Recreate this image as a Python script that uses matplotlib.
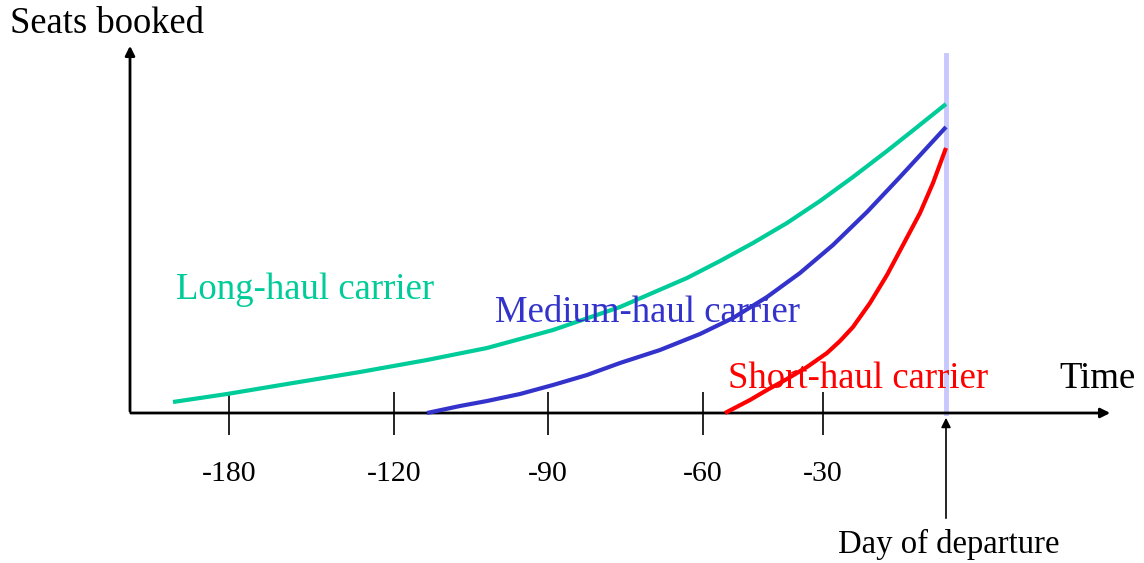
import matplotlib.pyplot as plt

plt.rcParams['font.family'] = ['Liberation Serif', 'DejaVu Serif']

# schematic booking curves (x: position on time axis, y: seats booked above baseline)
long_x = [173, 227, 293, 360, 427, 487, 553, 620, 687, 720, 753, 787, 820, 853, 887, 916, 946]
long_y = [11, 19, 30, 41, 53, 65, 83, 106, 135, 152, 170, 190, 212, 236, 262, 285, 309]
med_x = [427, 460, 487, 520, 553, 587, 620, 660, 700, 733, 767, 800, 833, 867, 900, 923, 946]
med_y = [0, 7, 12, 19, 28, 38, 50, 63, 79, 95, 116, 140, 168, 201, 236, 261, 286]
short_x = [725, 750, 767, 787, 807, 827, 840, 853, 870, 887, 903, 920, 933, 946]
short_y = [0, 13, 23, 34, 46, 60, 72, 86, 110, 138, 168, 200, 230, 265]

tick_pos = [229, 394, 548, 703, 823]
tick_labels = ['-180', '-120', '-90', '-60', '-30']
departure = 946

green = '#00CC99'
blue = '#3333CC'
red = '#FF0000'

fig = plt.figure(figsize=(11.44, 5.63), dpi=100)
ax = fig.add_axes([0, 0, 1, 1])
ax.set_xlim(0, 1144)
ax.set_ylim(-150, 413)
ax.set_axis_off()

# departure day highlight
ax.plot([departure, departure], [0, 358], color='#C8C8FF', lw=3.5, zorder=1)

# axes with arrows
ax.annotate('', xy=(130, 370), xytext=(130, -1),
            arrowprops=dict(arrowstyle='-|>', color='black', lw=2, mutation_scale=14))
ax.annotate('', xy=(1113, 0), xytext=(128, 0),
            arrowprops=dict(arrowstyle='-|>', color='black', lw=2, mutation_scale=14))

# ticks
ax.vlines(tick_pos, -22, 21, color='black', lw=1.2)
for p, lab in zip(tick_pos, tick_labels):
    ax.text(p, -61, lab, ha='center', va='center', fontsize=21.5)

# curves
ax.plot(long_x, long_y, color=green, lw=3, solid_capstyle='butt', zorder=3)
ax.plot(med_x, med_y, color=blue, lw=3, solid_capstyle='butt', zorder=3)
ax.plot(short_x, short_y, color=red, lw=3, solid_capstyle='butt', zorder=3)

# labels
ax.text(10, 389, 'Seats booked', fontsize=26.4, va='center', ha='left')
ax.text(1136, 34, 'Time', fontsize=26.5, va='center', ha='right')
ax.text(176, 123, 'Long-haul carrier', fontsize=26.5, color=green, va='center')
ax.text(495, 100, 'Medium-haul carrier', fontsize=26.5, color=blue, va='center')
ax.text(728, 34, 'Short-haul carrier', fontsize=26.5, color=red, va='center')

ax.annotate('', xy=(departure, -2), xytext=(departure, -108),
            arrowprops=dict(arrowstyle='-|>', color='black', lw=1.2, mutation_scale=14))
ax.text(949, -131, 'Day of departure', fontsize=23.6, ha='center', va='center')

fig.savefig('out.png', dpi=100)
